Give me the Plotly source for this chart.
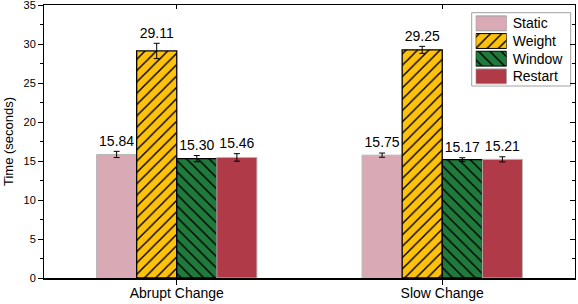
import plotly.graph_objects as go

categories = ["Abrupt Change", "Slow Change"]
series_names = ["Static", "Weight", "Window", "Restart"]
static_vals = [15.84, 15.75]
weight_vals = [29.11, 29.25]
window_vals = [15.30, 15.17]
restart_vals = [15.46, 15.21]
static_err = [0.40, 0.27]
weight_err = [0.98, 0.45]
window_err = [0.40, 0.25]
restart_err = [0.48, 0.33]
y_ticks = [0, 5, 10, 15, 20, 25, 30, 35]

values = [static_vals, weight_vals, window_vals, restart_vals]
errors = [static_err, weight_err, window_err, restart_err]
fills = ["#d9a9b5", "#ffc20c", "#1f7a3c", "#b03a47"]
outlines = ["#b8b8b8", "#000000", "#000000", "#b8b8b8"]
outline_w = [1, 1.3, 1.3, 1]
shapes_pat = ["", "/", "\\", ""]

FONT = "Liberation Sans, Arial, sans-serif"
bargap = 0.396
group_w = 1 - bargap
bar_w = group_w / len(series_names)
xpos = list(range(len(categories)))


def pattern(k):
    return dict(shape=shapes_pat[k], fgcolor="#000000", bgcolor=fills[k],
                fillmode="replace", size=8, solidity=0.18)


fig = go.Figure()
for k, name in enumerate(series_names):
    fig.add_trace(go.Bar(
        x=xpos, y=values[k], name=name, showlegend=False,
        marker=dict(color=fills[k], line=dict(color=outlines[k], width=outline_w[k]),
                    pattern=pattern(k)),
        error_y=dict(type="data", array=errors[k], color="#000000", thickness=1, width=3),
    ))

# value labels above error bars
for k, name in enumerate(series_names):
    off = -group_w / 2 + (k + 0.5) * bar_w
    fig.add_trace(go.Scatter(
        x=[i + off for i in xpos],
        y=[v + e for v, e in zip(values[k], errors[k])],
        mode="markers+text", text=[f"{v:.2f}" for v in values[k]],
        marker=dict(size=2, opacity=0),
        textposition="top center", textfont=dict(family=FONT, size=14, color="#000"),
        showlegend=False, hoverinfo="skip", cliponaxis=False,
    ))

# custom legend swatches on an inset axis
for k, name in enumerate(series_names):
    fig.add_trace(go.Bar(
        x=[1], y=[name], orientation="h", xaxis="x3", yaxis="y3", showlegend=False,
        width=0.84, offset=-0.42,
        marker=dict(color=fills[k], line=dict(color=outlines[k] if k in (1, 2) else "#9a9a9a", width=1),
                    pattern=pattern(k)),
        hoverinfo="skip",
    ))

W, H = 578, 304
L, R, T, B = 44, 3, 5, 26
pw, ph = W - L - R, H - T - B

def px_x(p):
    return (p - L) / pw

def px_y(p):
    return (H - B - p) / ph

fig.update_layout(
    template="none",
    width=W, height=H,
    margin=dict(l=L, r=R, t=T, b=B, pad=0),
    paper_bgcolor="white", plot_bgcolor="white",
    barmode="group", bargap=bargap, bargroupgap=0,
    font=dict(family=FONT, size=12, color="#000"),
    showlegend=False,
    xaxis=dict(range=[-0.5, 1.5], tickvals=xpos, ticktext=categories, automargin=False,
               tickfont=dict(size=14), ticks="outside", ticklen=5, tickcolor="#000",
               ticklabelstandoff=-4,
               showline=True, linecolor="#000", linewidth=2, showgrid=False, zeroline=False),
    yaxis=dict(range=[0, 35], tickvals=y_ticks, ticks="outside", ticklen=5, tickcolor="#000",
               tickfont=dict(size=11), showline=True, linecolor="#000", linewidth=1,
               showgrid=False, zeroline=False, automargin=False, ticklabeloverflow="allow",
               minor=dict(dtick=2.5, tick0=0, ticks="outside", ticklen=3, tickcolor="#000"),
               title=dict(text="Time (seconds)", font=dict(size=13), standoff=6)),
    xaxis2=dict(overlaying="x", side="top", range=[-0.5, 1.5], tickvals=xpos, automargin=False,
                showticklabels=False, ticks="inside", ticklen=4, tickcolor="#000",
                showline=True, linecolor="#000", linewidth=1, showgrid=False, zeroline=False),
    yaxis2=dict(overlaying="y", side="right", range=[0, 35], tickvals=y_ticks, automargin=False,
                showticklabels=False, ticks="inside", ticklen=5, tickcolor="#000",
                showline=True, linecolor="#000", linewidth=1, showgrid=False, zeroline=False,
                minor=dict(dtick=2.5, tick0=0, ticks="inside", ticklen=3, tickcolor="#000")),
    xaxis3=dict(domain=[px_x(475.7), px_x(506.7)], range=[0, 1], anchor="y3", automargin=False,
                visible=False, fixedrange=True),
    yaxis3=dict(domain=[px_y(85.2), px_y(14.5)], anchor="x3", side="right", automargin=False,
                autorange="reversed", showgrid=False, zeroline=False, showline=False,
                ticks="", ticklabelstandoff=5, tickfont=dict(size=14), fixedrange=True),
    shapes=[dict(type="rect", xref="paper", yref="paper",
                 x0=px_x(471.7), x1=px_x(570.7), y0=px_y(86), y1=px_y(12.7),
                 line=dict(color="#a0a0a0", width=1), fillcolor="white", layer="below")],
)

# invisible traces so the mirror axes are drawn
fig.add_trace(go.Scatter(x=[0], y=[0], xaxis="x2", yaxis="y2", mode="markers",
                         marker=dict(opacity=0), showlegend=False, hoverinfo="skip"))

fig.write_html("out.html", config={"displayModeBar": False},
               post_script="document.body.style.margin='0';document.body.style.padding='0';")
